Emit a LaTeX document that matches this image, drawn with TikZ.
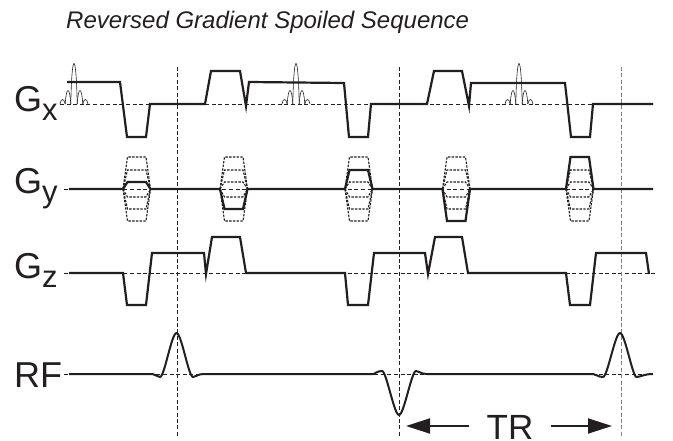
\documentclass[tikz,border=0pt]{standalone}
\usepackage{fontspec}
\setmainfont{Liberation Sans}
\usepackage{tikz}
\usetikzlibrary{arrows.meta}
\definecolor{ink}{HTML}{231F20}

\tikzset{
  lbl/.style={anchor=base west,inner sep=0pt,text=ink,font=\fontsize{36}{36}\selectfont},
  grad/.style={ink,line width=2.2pt,line join=miter},
  zero/.style={ink,line width=0.7pt,dash pattern=on 4pt off 2.6pt},
  tmark/.style={ink,line width=0.7pt,dash pattern=on 4pt off 2.4pt},
  phase/.style={ink,line width=1.1pt,dash pattern=on 2.4pt off 1.3pt},
  lobe/.style={ink,line width=0.6pt},
  trarrow/.style={ink,line width=1.8pt,-{Triangle[length=24pt,width=15pt]}},
}
\newcommand{\subs}[2]{#1\raisebox{-9pt}{\fontsize{31}{31}\selectfont #2}}

\begin{document}
\begin{tikzpicture}[x=1pt,y=-1pt]
\useasboundingbox (0,0) rectangle (673,441);

% title
\node[anchor=base west,inner sep=0pt,text=ink,font=\fontsize{24}{24}\selectfont\itshape] (title) at (66,29) {Reversed Gradient Spoiled Sequence};

% axis labels
\node[lbl] (gx) at (14,112) {\subs{G}{x}};
\node[lbl] (gy) at (14,194) {\subs{G}{y}};
\node[lbl] (gz) at (14,279) {\subs{G}{z}};
\node[lbl] (rf) at (14,387) {RF};

% zero lines
\draw[zero] (60,104) -- (653,104);
\draw[zero] (64,189) -- (653,189);
\draw[zero] (64,273) -- (655,273);
\draw[zero] (64,374) -- (653,374);

% TR marks
\draw[tmark] (177.5,67) -- (177.5,437);
\draw[tmark] (399.5,67) -- (399.5,437);
\draw[tmark,gray,line width=0.9pt] (621,67) -- (621,437);

% sinc pulses on Gx
\foreach \cx in {74,296,519} {
  \draw[lobe] (\cx-3.2,104) .. controls (\cx-2.2,50) and (\cx+2.2,50) .. (\cx+3.2,104);
  \draw[lobe] (\cx-8.8,104) .. controls (\cx-7.6,86) and (\cx-4.4,86) .. (\cx-3.2,104);
  \draw[lobe] (\cx+3.2,104) .. controls (\cx+4.4,86) and (\cx+7.6,86) .. (\cx+8.8,104);
  \draw[lobe] (\cx-14,104) .. controls (\cx-13,98) and (\cx-10,98) .. (\cx-8.8,104);
  \draw[lobe] (\cx+8.8,104) .. controls (\cx+10,98) and (\cx+13,98) .. (\cx+14,104);
}

% Gx
\draw[grad] (67,82) -- (120,82) -- (127,137) -- (146,137) -- (150,104) -- (205,104)
  -- (211,71) -- (240,71) -- (246,106) -- (249,82) -- (344,83) -- (349,137)
  -- (368,137) -- (371,104) -- (427,104) -- (434,71) -- (462,71) -- (469,106)
  -- (471,83) -- (565,83) -- (571,137) -- (590,137) -- (593,104) -- (653,104);

% Gy phase steps
\foreach \xa in {123,220,345,442.5,566} {
  \foreach \lev in {157,170,182,197,209,221} {
    \draw[phase] (\xa,189) -- (\xa+4.5,\lev) -- (\xa+23,\lev) -- (\xa+27.5,189);
  }
}

% Gy
\draw[grad] (69,189) -- (123,189) -- (127.5,182) -- (146,182) -- (150.5,189)
  -- (220,189) -- (224.5,209) -- (243,209) -- (247.5,189)
  -- (345,189) -- (349.5,170) -- (368,170) -- (372.5,189)
  -- (442.5,189) -- (447,221) -- (465.5,221) -- (470,189)
  -- (566,189) -- (570.5,157) -- (589,157) -- (593.5,189) -- (653,189);

% Gz
\draw[grad] (69,273) -- (123,273) -- (127,305) -- (146,305) -- (152,253) -- (204,253)
  -- (206,274) -- (212,237) -- (240,237) -- (246,273) -- (345,273) -- (348,305)
  -- (368,305) -- (374,253) -- (425,253) -- (428,274) -- (435,237) -- (462,237)
  -- (468,273) -- (566,273) -- (570,305) -- (590,305) -- (596,253) -- (646,253)
  -- (649,274);

% RF
\draw[grad,line width=2pt] (69,374) -- (152.5,374)
  .. controls (155,374) and (157,377) .. (160,377)
  .. controls (164.5,377) and (171.5,333) .. (176.5,333)
  .. controls (181.5,333) and (188.5,377) .. (193,377)
  .. controls (196.5,377) and (197.5,374) .. (203.5,374)
  -- (373,374)
  .. controls (375,374) and (377,371) .. (382,371)
  .. controls (386.5,371) and (394,415) .. (399,415)
  .. controls (404,415) and (411.5,371) .. (416,371)
  .. controls (419.5,371) and (420.5,374) .. (427,374)
  -- (593,374)
  .. controls (596,374) and (598,377) .. (603,377)
  .. controls (607.5,377) and (615,333) .. (620,333)
  .. controls (625,333) and (632.5,377) .. (636.5,377)
  .. controls (640,377) and (644,374) .. (653,374);

% TR
\node[anchor=base,inner sep=0pt,inner xsep=17pt,text=ink,font=\fontsize{35}{35}\selectfont] (tr) at (510,439) {TR};
\coordinate (trleft) at (406,426);
\coordinate (trright) at (612,426);
\draw[trarrow] (tr.west |- trleft) -- (trleft);
\draw[trarrow] (tr.east |- trright) -- (trright);

\end{tikzpicture}
\end{document}
